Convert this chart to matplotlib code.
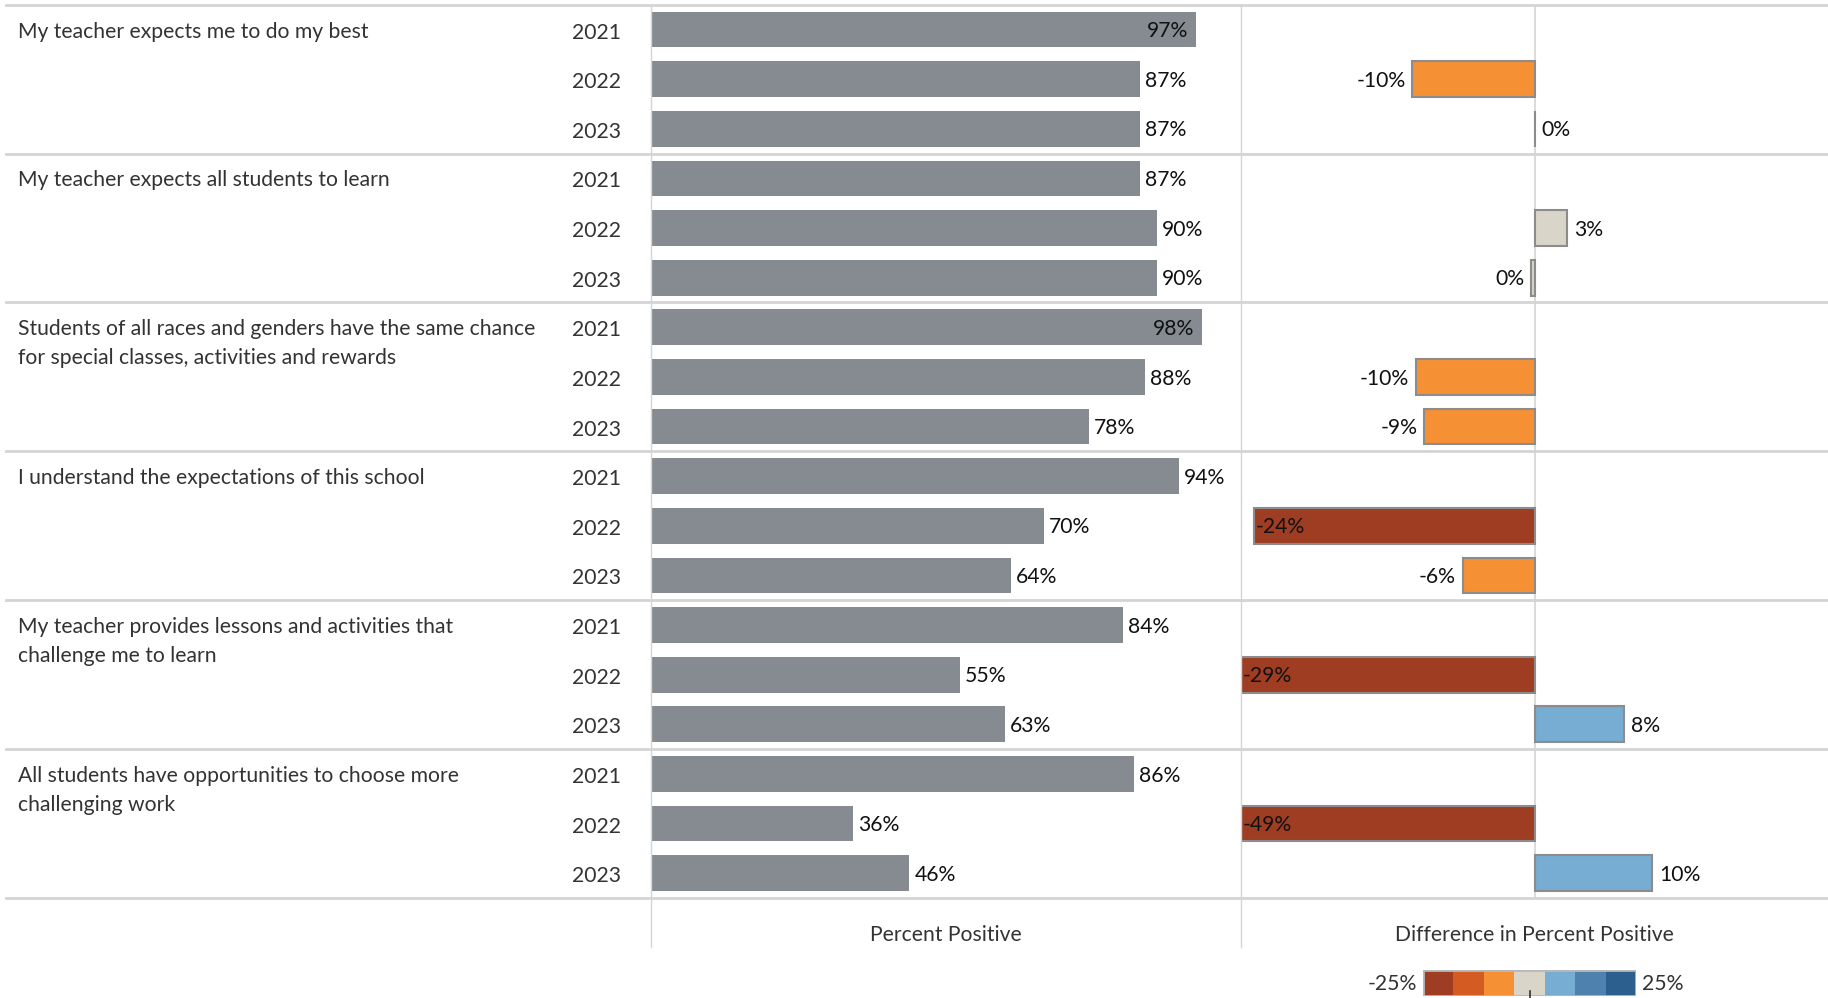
import matplotlib.pyplot as plt
import numpy as np
from matplotlib.colors import ListedColormap, BoundaryNorm
from matplotlib.lines import Line2D
from matplotlib.patches import Rectangle

# --- data ---
questions = [
    "My teacher expects me to do my best",
    "My teacher expects all students to learn",
    "Students of all races and genders have the same chance\nfor special classes, activities and rewards",
    "I understand the expectations of this school",
    "My teacher provides lessons and activities that\nchallenge me to learn",
    "All students have opportunities to choose more\nchallenging work",
]
years = ["2021", "2022", "2023"]
pct_2021 = [97, 87, 98, 94, 84, 86]
pct_2022 = [87, 90, 88, 70, 55, 36]
pct_2023 = [87, 90, 78, 64, 63, 46]
diff_2022 = [-10.4, 2.8, -10.1, -23.9, -29.0, -49.0]
diff_2023 = [0.0, -0.3, -9.4, -6.1, 7.6, 10.0]

# --- layout (pixels) ---
W, H = 1828, 998
TOP, BOT = 4.7, 898.0
X_PCT, X_DIFF, X_END = 651, 1241, 1828
FONT = "Lato"
FS = 15.2
TXT = "#333333"
GRID = "#d4d4d4"
DY = -1.2  # small vertical nudge of labels (points)

colors = ["#9e3d22", "#d45b21", "#f69035", "#d9d5c9", "#77acd3", "#4f81af", "#2d5f8e"]
cmap = ListedColormap(colors)
norm = BoundaryNorm(np.linspace(-25, 25, 8), cmap.N, clip=True)


def fx(px):
    return px / W


def fy(py):
    return 1 - py / H


def pct_label(v):
    return f"{round(v) + 0:.0f}%"


plt.rcParams["font.family"] = [FONT, "DejaVu Sans"]
fig = plt.figure(figsize=(W / 100, H / 100), dpi=100)

n_slots = len(questions) * 3
slot_h = (BOT - TOP) / n_slots
box = [fy(BOT), (BOT - TOP) / H]
ax_pct = fig.add_axes([fx(X_PCT), box[0], fx(X_DIFF - X_PCT), box[1]])
ax_diff = fig.add_axes([fx(X_DIFF), box[0], fx(X_END - X_DIFF), box[1]])

pct = np.array([pct_2021, pct_2022, pct_2023]).T.ravel()
diff = np.array([[np.nan] * len(questions), diff_2022, diff_2023]).T.ravel()
ypos = np.arange(n_slots) + 0.5

# percent positive bars
ax_pct.barh(ypos, pct, height=0.72, color="#858b91")
ax_pct.set_xlim(0, 105)
for y, v in zip(ypos, pct):
    if v >= 96:
        ax_pct.annotate(pct_label(v), (v, y), xytext=(-5.5, DY), textcoords="offset points",
                        ha="right", va="center", fontsize=FS, color="#111111")
    else:
        ax_pct.annotate(pct_label(v), (v, y), xytext=(3.5, DY), textcoords="offset points",
                        ha="left", va="center", fontsize=FS, color="#111111")

# difference bars
mask = ~np.isnan(diff)
dv = diff[mask]
dy = ypos[mask]
ax_diff.barh(dy, np.clip(dv, -25, 25), height=0.72, color=cmap(norm(dv)),
             edgecolor="#8c8c8c", linewidth=1.5, zorder=3)
ax_diff.set_xlim(-25, 25)
ax_diff.axvline(0, color=GRID, lw=1.2, zorder=1)
for y, v in zip(dy, dv):
    lab = pct_label(v)
    if v >= 0:
        ax_diff.annotate(lab, (v, y), xytext=(5, DY), textcoords="offset points",
                         ha="left", va="center", fontsize=FS, color="#111111")
    elif v - 4.5 < -25:
        ax_diff.annotate(lab, (max(v, -25), y), xytext=(1.5, DY), textcoords="offset points",
                         ha="left", va="center", fontsize=FS, color="#111111", zorder=4)
    else:
        ax_diff.annotate(lab, (v, y), xytext=(-5, DY), textcoords="offset points",
                         ha="right", va="center", fontsize=FS, color="#111111")

for ax in (ax_pct, ax_diff):
    ax.set_ylim(n_slots, 0)
    ax.axis("off")

# grid lines
for k in range(len(questions) + 1):
    yy = fy(TOP + k * 3 * slot_h)
    fig.add_artist(Line2D([fx(6), 1], [yy, yy], color=GRID, lw=2))
for xx in (X_PCT, X_DIFF):
    fig.add_artist(Line2D([fx(xx), fx(xx)], [fy(TOP), fy(947)], color=GRID, lw=1))

# row headers
for i, q in enumerate(questions):
    yc = TOP + (i * 3 + 0.5) * slot_h + 2
    for k, line in enumerate(q.split("\n")):
        fig.text(fx(17.5), fy(yc + k * 29), line, ha="left", va="center",
                 fontsize=FS, color=TXT)
    for j, yr in enumerate(years):
        fig.text(fx(621), fy(yc + j * slot_h + 1), yr, ha="right", va="center",
                 fontsize=FS, color=TXT)

# axis titles
fig.text(fx((X_PCT + X_DIFF) / 2), fy(935), "Percent Positive", ha="center", va="center",
         fontsize=FS, color=TXT)
fig.text(fx((X_DIFF + X_END) / 2), fy(935), "Difference in Percent Positive", ha="center",
         va="center", fontsize=FS, color=TXT)

# colour legend
ax_leg = fig.add_axes([fx(1423), fy(996), fx(1636 - 1423), (996 - 970) / H])
ax_leg.imshow(np.arange(7)[None, :], cmap=cmap, aspect="auto", extent=(0, 7, 0, 1))
ax_leg.add_patch(Rectangle((0, 0), 7, 1, fill=False, edgecolor="#b8b8b8", lw=2))
ax_leg.set_xlim(0, 7)
ax_leg.set_ylim(0, 1)
ax_leg.axis("off")
fig.text(fx(1417), fy(984), "-25%", ha="right", va="center", fontsize=FS, color=TXT)
fig.text(fx(1642), fy(984), "25%", ha="left", va="center", fontsize=FS, color=TXT)
fig.add_artist(Line2D([fx(1530), fx(1530)], [fy(991), fy(998)], color="#333333", lw=1.2))

fig.savefig("out.png", dpi=100)
